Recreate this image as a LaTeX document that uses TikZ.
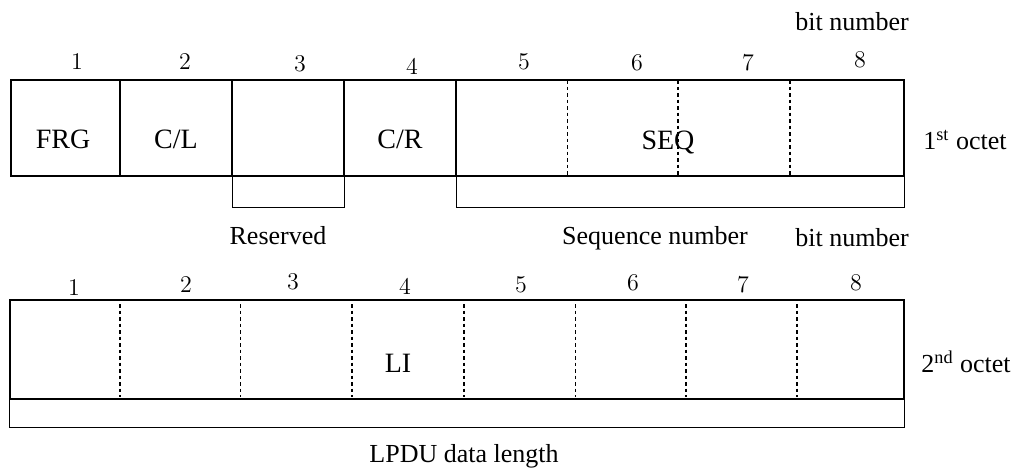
\documentclass[tikz,border=0pt]{standalone}
\usepackage{fontspec}
\setmainfont{Liberation Serif}
\usepackage{tikz}
\usetikzlibrary{positioning}

\tikzset{
    frame/.style={line width=1pt},
    bracket/.style={line width=0.5pt},
    dotthick/.style={line width=1pt, dash pattern=on 1.75pt off 1.5pt},
    dotthin/.style={line width=0.5pt, dash pattern=on 1.75pt off 1.5pt},
    bitno/.style={inner sep=0pt, font=\fontsize{12}{14}\selectfont},
    field/.style={inner sep=0pt, anchor=base, font=\fontsize{14}{16}\selectfont},
    note/.style={inner sep=0pt, anchor=base, font=\fontsize{13}{15}\selectfont},
}

\begin{document}
\begin{tikzpicture}[x=0.5pt, y=-0.5pt]
    \useasboundingbox (0,0) rectangle (1013,468);

    % 1st octet
    \node[note] (bitA) at (852,30) {bit number};
    \foreach \n/\x/\y in {1/77/62, 2/185/62, 3/300/64, 4/412/67, 5/524/62, 6/637/63, 7/748/63, 8/860/60}
        \node[bitno] (upper\n) at (\x,\y) {$\n$};

    \draw[bracket] (232,176) -- (232,207) -- (344,207) -- (344,176);
    \draw[bracket] (456,176) -- (456,207) -- (904,207) -- (904,176);

    \draw[frame] (11,80) rectangle (904,176);
    \foreach \x in {120,232,344,456}
        \draw[frame] (\x,80) -- (\x,176);
    \draw[dotthin] (567,80) -- (567,176);
    \foreach \x in {678,790}
        \draw[dotthick] (\x,80) -- (\x,176);

    \node[field] (frg) at (63,148) {FRG};
    \node[field] (cl) at (176,148) {C/L};
    \node[field] (cr) at (400,148) {C/R};
    \node[field] (seq) at (668,149) {SEQ};
    \node[note, anchor=base west] (octA) at (923,149) {1\textsuperscript{st} octet};

    \node[note] (reserved) at (278,244) {Reserved};
    \node[note] (seqnum) at (655,244) {Sequence number};
    \node[note] (bitB) at (852,246) {bit number};

    % 2nd octet
    \foreach \n/\x/\y in {1/74/288, 2/186/285, 3/293/282, 4/405/287, 5/521/285, 6/633/283, 7/743/285, 8/856/283}
        \node[bitno] (lower\n) at (\x,\y) {$\n$};

    \draw[bracket] (9,399) rectangle (904,427);

    \draw[frame] (10,300) rectangle (904,399);
    \foreach \x in {120,352,464,686,797}
        \draw[dotthick] (\x,304) -- (\x,397);
    \foreach \x in {240,575}
        \draw[dotthin] (\x,304) -- (\x,397);

    \node[field] (li) at (398,372) {LI};
    \node[note, anchor=base west] (octB) at (921,372) {2\textsuperscript{nd} octet};

    \node[note] (lpdu) at (464,462) {LPDU data length};
\end{tikzpicture}
\end{document}
